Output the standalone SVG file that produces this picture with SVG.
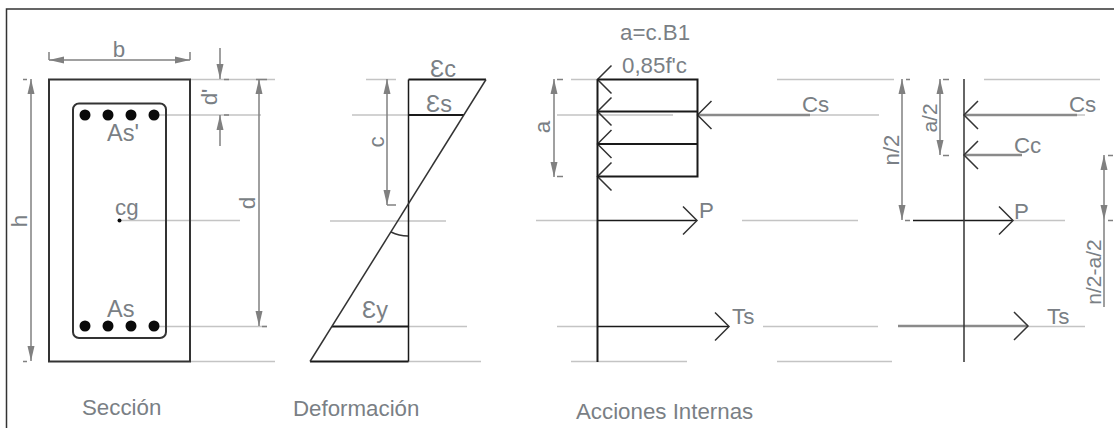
<svg xmlns="http://www.w3.org/2000/svg" width="1114" height="428" viewBox="0 0 1114 428">
<style>
text{font-family:"Liberation Sans",Arial,sans-serif;font-size:22.300px;fill:#7a7f85}
.e{font-size:23.500px}
.s{font-size:21px}
.k{stroke:#1a1a1a;stroke-width:2;fill:none}
.t{stroke:#1a1a1a;stroke-width:1.500;fill:none}
.n{stroke:#333;stroke-width:1.500;fill:none}
.l{stroke:#c4c4c4;stroke-width:1.500;fill:none}
.d{stroke:#808080;stroke-width:1.500;fill:none}
.g{stroke:#8a8a8a;stroke-width:2.500;fill:none}
.a{marker-end:url(#ah)}
.b{marker-start:url(#as);marker-end:url(#ah)}
</style>
<defs>
<marker id="ah" markerUnits="userSpaceOnUse" markerWidth="16" markerHeight="8" refX="15" refY="4" orient="auto"><path d="M0,0.500L15,4L0,7.500z" fill="#808080"/></marker>
<marker id="as" markerUnits="userSpaceOnUse" markerWidth="16" markerHeight="8" refX="0" refY="4" orient="auto"><path d="M15,0.500L0,4L15,7.500z" fill="#808080"/></marker>
<path id="hl" d="M14,-14L0,0L14,14" fill="none" stroke="#333" stroke-width="1.500"/>
<path id="hr" d="M-14,-14L0,0L-14,14" fill="none" stroke="#333" stroke-width="1.500"/>
</defs>
<path id="frame" d="M1114,9H6.500V428" fill="none" stroke="#333" stroke-width="1.500"/>

<g id="connectors">
<path class="l" d="M190,79.500H275M154,115H261M190,361.500H275M154,326.500H267M119,220.500H240"/>
<path class="l" d="M366,79.500H396M352,115H408M330,221H446M408,326.500H467M408,361.500H481"/>
<path class="l" d="M571,79.500H597M557,115H673M536,220.500H597M742,220.500H858M557,326.500H597M763,326.500H878M571,361.500H687M777,361.500H892M777,79.500H894M777,115H879"/>
<path class="l" d="M984,79.500H1100M1013,220.500H1065M1028,326.500H1085M1077,115H1085"/>
<path class="d b" d="M49,60H190"/>
<path class="d" d="M49,52V60M190,52V60M23,79.500H27M23,361.500H27"/>
<path class="d a" d="M220,48V79"/>
<path class="d a" d="M220,146V115"/>
<path class="d b" d="M31,79V361"/>
<path class="d b" d="M259,79V326"/>
<path class="d" d="M224,79.500H229M224,115H229M256,79.500H267M262,326.500H267"/>
<path class="d b" d="M387,79V205"/>
<path class="d" d="M387,205H396"/>
<path class="d b" d="M554,79V177"/>
<path class="d" d="M557,79.500H563M557,176.500H563"/>
<path class="d b" d="M902,79V220"/>
<path class="d b" d="M940,79V155"/>
<path class="d" d="M906,79.500H910M905,220.500H910M943,79.500H949M943,155.500H949"/>
<path class="d b" d="M1104,155V220"/>
<path class="d" d="M1104,220V307M1108,155.500H1113M1108,220.500H1113"/>
<path class="g" d="M698,115H810"/>
<path class="g" d="M964,115H1077M964,155H1022"/>
<path class="g" d="M898,326H1028"/>
<path class="t" d="M913,220.500H1013M597.500,220.500H697M597.500,326.500H729"/>
<use href="#hl" x="597.500" y="79.500"/><use href="#hl" x="597.500" y="111.500"/><use href="#hl" x="597.500" y="144"/><use href="#hl" x="597.500" y="176.500"/>
<use href="#hl" x="697.500" y="115"/>
<use href="#hr" x="697" y="220.500"/><use href="#hr" x="729" y="326.500"/>
<use href="#hl" x="964" y="115"/><use href="#hl" x="964" y="155"/>
<use href="#hr" x="1013" y="220.500"/><use href="#hr" x="1028" y="326"/>
</g>

<g id="seccion">
<rect x="49" y="79.500" width="141" height="282" fill="none" stroke="#333" stroke-width="2"/>
<rect x="73" y="103.500" width="93" height="234.500" rx="6" fill="none" stroke="#333" stroke-width="2"/>
<g fill="#0a0a0a"><circle cx="85" cy="115" r="5.500"/><circle cx="108" cy="115" r="5.500"/><circle cx="131" cy="115" r="5.500"/><circle cx="154" cy="115" r="5.500"/><circle cx="85" cy="326" r="5.500"/><circle cx="108" cy="326" r="5.500"/><circle cx="131" cy="326" r="5.500"/><circle cx="154" cy="326" r="5.500"/><circle cx="119.500" cy="220.500" r="2"/></g>
<text x="119" y="57" text-anchor="middle">b</text>
<text class="e" x="107" y="141">As'</text>
<text class="e" x="107" y="317">As</text>
<text x="115" y="215">cg</text>
<text transform="translate(27,221) rotate(-90)" text-anchor="middle">h</text>
<text transform="translate(255,203) rotate(-90)" text-anchor="middle">d</text>
<text transform="translate(217,97) rotate(-90)" text-anchor="middle">d'</text>
<text x="82" y="415">Sección</text>
</g>

<g id="deformacion">
<path class="t" d="M408.500,79.500V361.500"/>
<path class="k" d="M408.500,79.500H486M408.500,115H464M332,326.500H408.500M310,361.500H408.500"/>
<path class="n" d="M486,79.500L310,361.500"/>
<path class="n" d="M391,232Q399,236 408,236"/>
<text transform="translate(384,142) rotate(-90)" text-anchor="middle">c</text>
<text class="e" x="430" y="77">Ɛc</text>
<text class="e" x="426" y="112">Ɛs</text>
<text class="e" x="362" y="318">Ɛy</text>
<text x="293" y="416">Deformación</text>
</g>

<g id="acciones">
<path class="k" d="M597.500,79.500V362"/>
<path class="k" d="M597.500,79.500H697.500V176.500H597.500M597.500,111.500H697.500M597.500,144H697.500"/>
<text x="620" y="40">a=c.B1</text>
<text x="622" y="73">0,85f'c</text>
<text transform="translate(550,127) rotate(-90)" text-anchor="middle">a</text>
<text x="802" y="112">Cs</text>
<text x="699" y="218">P</text>
<text x="732" y="324">Ts</text>
<text x="576" y="419">Acciones Internas</text>
</g>

<g id="resultantes">
<path class="n" d="M964,79V362"/>
<text x="1069" y="112">Cs</text>
<text x="1014" y="153">Cc</text>
<text x="1014" y="219">P</text>
<text x="1047" y="324">Ts</text>
<text transform="translate(899,150) rotate(-90)" text-anchor="middle">n/2</text>
<text class="s" transform="translate(937,118) rotate(-90)" text-anchor="middle">a/2</text>
<text class="s" transform="translate(1101,272) rotate(-90)" text-anchor="middle">n/2-a/2</text>
</g>
</svg>
